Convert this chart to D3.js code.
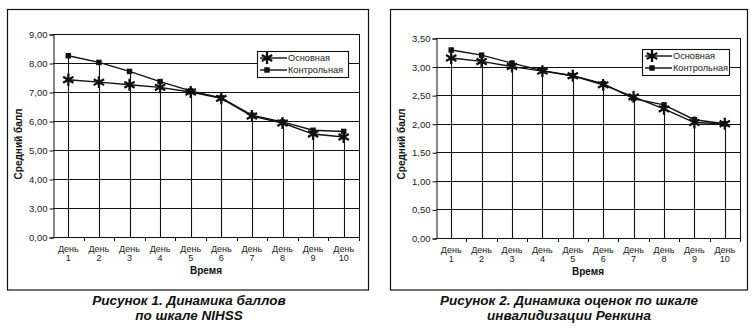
<!DOCTYPE html>
<html><head><meta charset="utf-8">
<script src="https://cdn.jsdelivr.net/npm/d3@7"></script>
<style>body{margin:0;background:#fff}svg{display:block}</style>
</head><body>
<svg id="c" width="754" height="328"></svg>
<script>
// ---- data ----
const days = ["День 1","День 2","День 3","День 4","День 5","День 6","День 7","День 8","День 9","День 10"];
const seriesNames = ["Основная","Контрольная"];
const nihssMain    = [7.42,7.34,7.25,7.16,7.00,6.78,6.17,5.93,5.55,5.45];
const nihssControl = [8.25,8.02,7.71,7.36,7.04,6.80,6.20,5.97,5.68,5.64];
const nihssTicks   = [0,3,4,5,6,7,8,9];
const rankinMain    = [3.15,3.09,3.00,2.92,2.84,2.68,2.47,2.26,2.02,2.00];
const rankinControl = [3.29,3.20,3.06,2.93,2.84,2.70,2.44,2.33,2.07,2.00];
const rankinTicks   = [0,0.5,1,1.5,2,2.5,3,3.5];
const yTitle = "Средний балл";
const xTitle = "Время";
const captions = [["Рисунок 1. Динамика баллов","по шкале NIHSS"],
                  ["Рисунок 2. Динамика оценок по шкале","инвалидизации Ренкина"]];

const locale = d3.formatLocale({decimal: ",", thousands: " ", grouping: [3], currency: ["", ""]});
const fmt = locale.format(".2f");

const svg = d3.select("#c");
const FONT = "'Liberation Sans', Arial, sans-serif";

function drawChart(cfg) {
  const g = svg.append("g");
  const {box, plot, legend} = cfg;
  g.append("rect").attr("x", box.x).attr("y", box.y).attr("width", box.w).attr("height", box.h)
    .attr("fill", "none").attr("stroke", "#111").attr("stroke-width", 1.2);

  // y scale: evenly spaced ticks (piecewise if needed)
  const ticks = cfg.ticks;
  const step = (plot.bottom - plot.top) / (ticks.length - 1);
  const y = d3.scaleLinear().domain(ticks).range(ticks.map((t, i) => plot.bottom - i * step));
  const x = d3.scaleBand().domain(days).range([plot.left, plot.right]);
  const cx = d => x(d) + x.bandwidth() / 2;

  // gridlines
  g.append("g").selectAll("line").data(ticks).join("line")
    .attr("x1", plot.left).attr("x2", plot.right)
    .attr("y1", d => Math.round(y(d)) + 0.5).attr("y2", d => Math.round(y(d)) + 0.5)
    .attr("stroke", "#111").attr("stroke-width", 1);
  // plot border right
  g.append("line").attr("x1", plot.right + 0.5).attr("x2", plot.right + 0.5)
    .attr("y1", y(ticks[ticks.length-1])).attr("y2", y(0)).attr("stroke", "#111");

  // y axis
  const yAxis = d3.axisLeft(y).tickValues(ticks).tickFormat(fmt).tickSize(4).tickPadding(2);
  const ya = g.append("g").attr("transform", `translate(${plot.left + 0.5},0.5)`).call(yAxis);
  ya.selectAll("path,line").attr("stroke", "#111");
  ya.selectAll("text").attr("font-family", FONT).attr("font-size", 9.5).attr("fill", "#222");

  // x axis: boundary ticks
  const bounds = days.map(d => x(d)).concat([plot.right]);
  g.append("g").selectAll("line").data(bounds.slice(1)).join("line")
    .attr("x1", d => Math.round(d) + 0.5).attr("x2", d => Math.round(d) + 0.5)
    .attr("y1", Math.round(y(0))).attr("y2", Math.round(y(0)) + 4).attr("stroke", "#111");
  const xl = g.append("g").selectAll("text").data(days).join("text")
    .attr("font-family", FONT).attr("font-size", 9).attr("fill", "#222")
    .attr("text-anchor", "middle");
  xl.each(function(d) {
    const parts = d.split(" ");
    const t = d3.select(this);
    t.append("tspan").attr("x", cx(d)).attr("y", plot.bottom + 14.5).text(parts[0]);
    t.append("tspan").attr("x", cx(d)).attr("y", plot.bottom + 23.5).text(parts[1]);
  });

  // drop lines
  g.append("g").selectAll("line").data(days).join("line")
    .attr("x1", d => Math.round(cx(d)) + 0.5).attr("x2", d => Math.round(cx(d)) + 0.5)
    .attr("y1", (d, i) => y(Math.max(cfg.main[i], cfg.control[i])))
    .attr("y2", y(0)).attr("stroke", "#111").attr("stroke-width", 1.1);

  // series lines
  const line = d3.line().x((v, i) => cx(days[i])).y(v => y(v));
  g.append("path").datum(cfg.control).attr("d", line).attr("fill", "none")
    .attr("stroke", "#111").attr("stroke-width", 1.4);
  g.append("path").datum(cfg.main).attr("d", line).attr("fill", "none")
    .attr("stroke", "#111").attr("stroke-width", 1.4);

  const sq = d3.symbol(d3.symbolSquare, 30);
  const star = d3.symbol(d3.symbolAsterisk, 100);
  g.append("g").selectAll("path").data(cfg.control).join("path")
    .attr("d", sq).attr("transform", (v, i) => `translate(${cx(days[i])},${y(v)})`)
    .attr("fill", "#111");
  g.append("g").selectAll("path").data(cfg.main).join("path")
    .attr("d", star).attr("transform", (v, i) => `translate(${cx(days[i])},${y(v)})`)
    .attr("fill", "none").attr("stroke", "#111").attr("stroke-width", 2.3);

  // legend
  const lg = g.append("g");
  lg.append("rect").attr("x", legend.x + 0.5).attr("y", legend.y + 0.5).attr("width", legend.w).attr("height", legend.h)
    .attr("fill", "#fff").attr("stroke", "#111").attr("stroke-width", 1.1);
  seriesNames.forEach((name, k) => {
    const ry = legend.y + 7 + k * 12;
    lg.append("line").attr("x1", legend.x + 3).attr("x2", legend.x + 30)
      .attr("y1", ry).attr("y2", ry).attr("stroke", "#111").attr("stroke-width", 1.4);
    if (k === 0) {
      lg.append("path").attr("d", star).attr("transform", `translate(${legend.x + 10},${ry})`)
        .attr("fill", "none").attr("stroke", "#111").attr("stroke-width", 2.3);
    } else {
      lg.append("path").attr("d", sq).attr("transform", `translate(${legend.x + 10},${ry})`).attr("fill", "#111");
    }
    lg.append("text").attr("x", legend.x + 31).attr("y", ry + 3.3)
      .attr("font-family", FONT).attr("font-size", 9.2).attr("fill", "#222").text(name);
  });

  // axis titles
  g.append("text").attr("x", (plot.left + plot.right) / 2).attr("y", plot.bottom + 37)
    .attr("text-anchor", "middle").attr("font-family", FONT).attr("font-weight", "bold")
    .attr("font-size", 10).attr("fill", "#111").text(xTitle);
  g.append("text").attr("transform", `translate(${box.x + 14},${cfg.yTitleY}) rotate(-90)`)
    .attr("text-anchor", "middle").attr("font-family", FONT).attr("font-weight", "bold")
    .attr("font-size", 10).attr("fill", "#111").text(yTitle);

  // caption
  cfg.caption.forEach((c, k) => {
    g.append("text").attr("x", cfg.captionX).attr("y", 305 + k * 15)
      .attr("text-anchor", "middle")
      .attr("font-family", "'Liberation Sans Narrow', 'Arial Narrow', 'Liberation Sans', sans-serif")
      .attr("font-weight", "bold").attr("font-style", "italic").attr("font-size", 13.5)
      .attr("fill", "#111").text(c);
  });
}

drawChart({
  box: {x: 7.5, y: 9.5, w: 361, h: 280.5},
  plot: {left: 53, right: 359, top: 34, bottom: 237},
  legend: {x: 257, y: 51, w: 91, h: 26},
  ticks: nihssTicks, main: nihssMain, control: nihssControl,
  yTitleY: 144, caption: captions[0], captionX: 189
});
drawChart({
  box: {x: 390.5, y: 9.5, w: 357, h: 280.5},
  plot: {left: 436, right: 740, top: 38, bottom: 238},
  legend: {x: 642, y: 49, w: 87, h: 26},
  ticks: rankinTicks, main: rankinMain, control: rankinControl,
  yTitleY: 144, caption: captions[1], captionX: 569
});
</script>
</body></html>
